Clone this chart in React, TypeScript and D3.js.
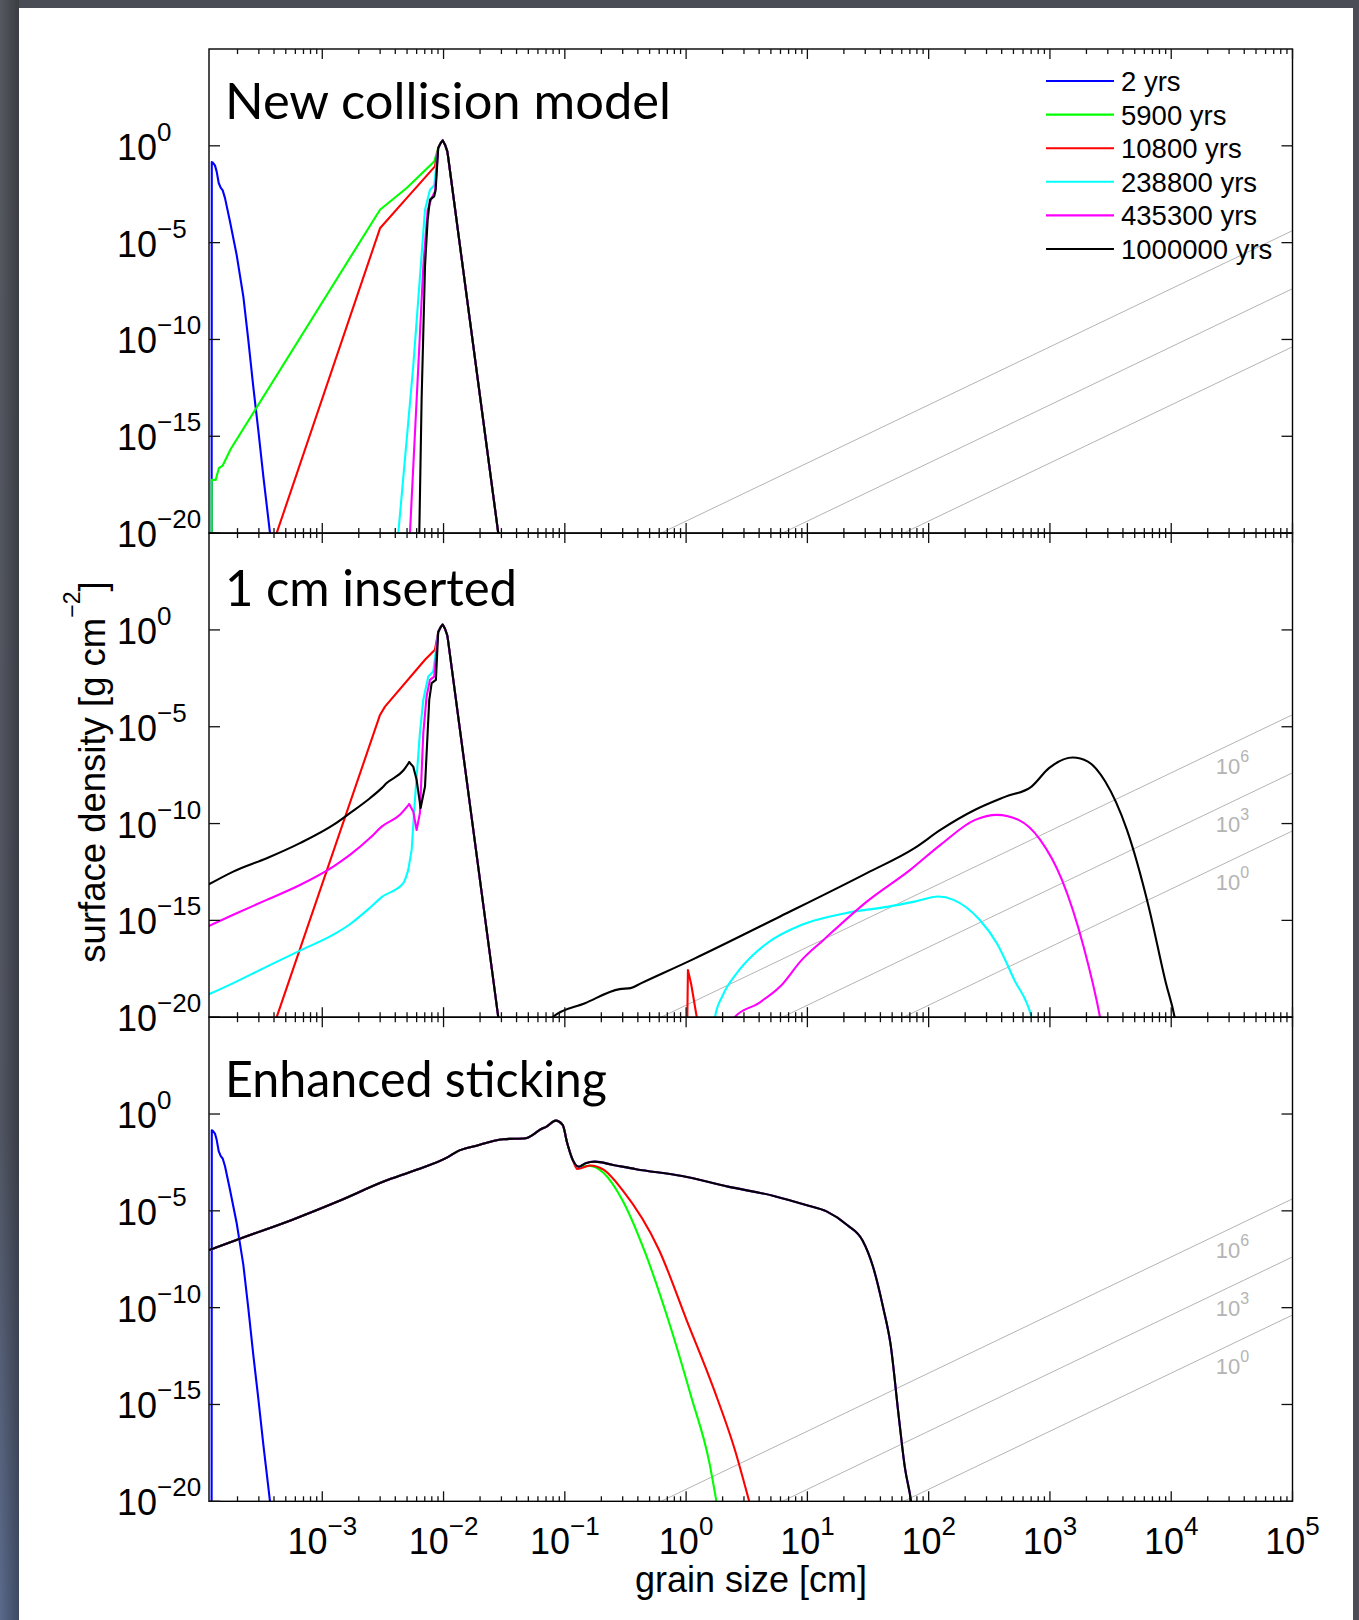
import React from 'react';
import * as d3 from 'd3';

type P = [number, number];

// ---------- labels ----------
const SERIES_NAMES = ['2 yrs', '5900 yrs', '10800 yrs', '238800 yrs', '435300 yrs', '1000000 yrs'];
const SERIES_COLORS = ['#0000ff', '#00ff00', '#ff0000', '#00ffff', '#ff00ff', '#000000'];
const PANEL_TITLES = ['New collision model', '1 cm inserted', 'Enhanced sticking'];
const X_TICK_EXP = [-3, -2, -1, 0, 1, 2, 3, 4, 5];
const Y_TICK_EXP = [-20, -15, -10, -5, 0];
const X_AXIS_LABEL = 'grain size [cm]';
const Y_AXIS_LABEL = 'surface density [g cm';
const Y_AXIS_LABEL_SUP = '\u22122';
const Y_AXIS_LABEL_END = ']';
// gray reference lines: log10 Σ = slope * log10 a + log10 N + intercept
const REF_LINE_LOGN = [6, 3, 0];
const REF_LINE_SLOPE = 3;
const REF_LINE_ICPT = -25.38;
const REF_LABEL_LOGX = 4.384;

// ---------- data: [log10 grain size (cm), log10 surface density (g cm^-2)] ----------
const BLUE: P[] = [
  [-3.913, -30], [-3.911, -0.84], [-3.904, -0.86], [-3.885, -1.01], [-3.871, -1.32], [-3.854, -1.92],
  [-3.838, -2.16], [-3.821, -2.30], [-3.802, -2.70], [-3.761, -3.91], [-3.706, -5.63], [-3.651, -7.78],
  [-3.610, -10.02], [-3.569, -12.43], [-3.528, -14.66], [-3.486, -17.07], [-3.431, -20.0], [-3.40, -22],
];
// common main peak near 100 µm
const PEAK: P[] = [
  [-2.044, -0.11], [-2.024, 0.14], [-2.007, 0.28], [-1.988, 0.06], [-1.969, -0.29], [-1.961, -0.63],
  [-1.549, -20], [-1.5, -22],
];
// panel 1: New collision model
const P1_GREEN: P[] = [
  [-3.913, -30], [-3.912, -17.25], [-3.879, -17.25], [-3.852, -16.64], [-3.821, -16.51], [-3.755, -15.66],
  [-2.524, -3.30], [-2.304, -2.18], [-2.077, -0.81],
];
const P1_RED: P[] = [
  [-3.45, -22], [-3.376, -20], [-2.524, -4.26], [-2.304, -2.70], [-2.071, -1.06],
];
const P1_CYAN: P[] = [
  [-2.40, -25], [-2.373, -20], [-2.250, -11.39], [-2.153, -3.30], [-2.112, -2.27], [-2.077, -2.05],
];
const P1_MAGENTA: P[] = [
  [-2.30, -25], [-2.277, -20], [-2.222, -13.11], [-2.167, -6.23], [-2.131, -3.30], [-2.098, -2.69], [-2.070, -2.35],
];
const P1_BLACK: P[] = [
  [-2.205, -25], [-2.200, -20], [-2.181, -13.11], [-2.153, -6.23], [-2.131, -3.82], [-2.112, -2.78],
  [-2.077, -2.61], [-2.065, -2.27],
];
// panel 2: 1 cm inserted
const P2_RED_LEFT: P[] = [
  [-3.45, -22], [-3.376, -20], [-2.524, -4.39], [-2.483, -3.96], [-2.153, -1.54], [-2.071, -1.02],
];
const P2_RED_SPIKE: P[] = [
  [-0.01, -30], [0.015, -17.56], [0.042, -18.3], [0.088, -20], [0.11, -22],
];
const P2_CYAN_TAIL: P[] = [
  [-3.932, -18.81], [-3.734, -18.24], [-3.458, -17.39], [-3.184, -16.56], [-2.909, -15.74], [-2.772, -15.20],
  [-2.607, -14.35], [-2.510, -13.80], [-2.332, -13.08], [-2.291, -12.39],
];
const P2_CYAN_RISE: P[] = [
  [-2.291, -12.39], [-2.263, -11.36], [-2.236, -8.78], [-2.195, -5.33], [-2.167, -3.61], [-2.126, -2.41], [-2.085, -2.15],
];
const P2_CYAN_RIGHT: P[] = [
  [0.20, -22], [0.238, -20], [0.30, -18.9], [0.417, -17.73], [0.55, -16.8], [0.668, -16.18], [0.954, -15.23],
  [1.311, -14.63], [1.669, -14.29], [1.883, -14.03], [2.080, -13.77], [2.205, -13.94], [2.420, -14.97],
  [2.562, -16.18], [2.706, -18.07], [2.848, -20], [2.90, -21.5],
];
const P2_MAGENTA_TAIL: P[] = [
  [-3.932, -15.28], [-3.734, -14.71], [-3.458, -13.94], [-3.184, -13.17], [-2.909, -12.22], [-2.772, -11.62],
  [-2.607, -10.75], [-2.510, -10.16], [-2.360, -9.55], [-2.283, -9.00],
];
const P2_MAGENTA_RISE: P[] = [
  [-2.283, -9.00], [-2.250, -9.38], [-2.222, -10.33], [-2.195, -9.46], [-2.167, -5.33], [-2.140, -3.44],
  [-2.112, -2.58], [-2.077, -2.41],
];
const P2_MAGENTA_RIGHT: P[] = [
  [0.35, -22], [0.400, -20], [0.596, -19.28], [0.775, -18.42], [0.954, -17.04], [1.133, -16.01], [1.490, -14.03],
  [1.848, -12.39], [2.097, -11.10], [2.383, -9.81], [2.562, -9.55], [2.741, -9.81], [2.920, -10.84],
  [3.099, -12.91], [3.277, -16.35], [3.413, -20], [3.45, -21.3],
];
const P2_BLACK_TAIL: P[] = [
  [-3.932, -13.13], [-3.734, -12.48], [-3.458, -11.79], [-3.184, -11.01], [-2.909, -10.07], [-2.772, -9.46],
  [-2.607, -8.69], [-2.510, -8.17], [-2.469, -7.91], [-2.332, -7.26], [-2.283, -6.83],
];
const P2_BLACK_RISE: P[] = [
  [-2.283, -6.83], [-2.250, -7.06], [-2.222, -7.74], [-2.189, -9.20], [-2.153, -8.09], [-2.118, -3.61],
  [-2.098, -2.75], [-2.063, -2.58],
];
const P2_BLACK_RIGHT: P[] = [
  [-1.15, -22], [-1.102, -20], [-0.834, -19.28], [-0.548, -18.55], [-0.458, -18.50], [-0.369, -18.24],
  [0.060, -17.00], [0.775, -14.80], [1.490, -12.56], [1.883, -11.27], [2.097, -10.33], [2.383, -9.29],
  [2.634, -8.61], [2.848, -8.09], [2.992, -7.14], [3.188, -6.59], [3.313, -6.80], [3.456, -7.83],
  [3.635, -10.33], [3.814, -14.29], [3.956, -18.24], [4.028, -20], [4.06, -21.2],
];
// panel 3: Enhanced sticking
const P3_BASE: P[] = [
  [-3.932, -7.02], [-3.630, -6.33], [-3.251, -5.47], [-2.873, -4.52], [-2.494, -3.49], [-2.229, -2.89],
  [-1.965, -2.23], [-1.889, -1.94], [-1.737, -1.65], [-1.510, -1.30], [-1.321, -1.25], [-1.264, -1.08],
  [-1.207, -0.82], [-1.151, -0.65], [-1.075, -0.34], [-1.018, -0.56], [-0.980, -1.51], [-0.935, -2.37],
];
const P3_GREEN: P[] = [
  [-0.885, -2.72], [-0.791, -2.68], [-0.678, -3.06], [-0.526, -4.44], [-0.336, -7.19], [-0.147, -10.64],
  [0.042, -14.60], [0.193, -18.04], [0.250, -20], [0.30, -21.7],
];
const P3_RED: P[] = [
  [-0.897, -2.84], [-0.791, -2.66], [-0.678, -2.89], [-0.526, -3.92], [-0.223, -7.02], [0.004, -10.64],
  [0.231, -14.25], [0.400, -17.3], [0.520, -20], [0.58, -21.4],
];
const P3_BLACK: P[] = [
  [-0.885, -2.72], [-0.829, -2.54], [-0.753, -2.46], [-0.602, -2.63], [-0.412, -2.85], [-0.034, -3.20],
  [0.345, -3.75], [0.723, -4.23], [0.989, -4.70], [1.158, -5.03], [1.328, -5.73], [1.455, -6.53],
  [1.540, -7.86], [1.625, -10.0], [1.685, -11.86], [1.753, -15.6], [1.804, -18.26], [1.855, -20], [1.88, -21.3],
];

type Part = { data: P[]; smooth: boolean };
type S = { idx: number; parts: Part[] };
const lin = (data: P[]): Part => ({ data, smooth: false });
const smo = (data: P[]): Part => ({ data, smooth: true });

const PANELS: S[][] = [
  [
    { idx: 0, parts: [lin(BLUE)] },
    { idx: 1, parts: [lin([...P1_GREEN, ...PEAK])] },
    { idx: 2, parts: [lin([...P1_RED, ...PEAK])] },
    { idx: 3, parts: [lin([...P1_CYAN, ...PEAK])] },
    { idx: 4, parts: [lin([...P1_MAGENTA, ...PEAK])] },
    { idx: 5, parts: [lin([...P1_BLACK, ...PEAK])] },
  ],
  [
    { idx: 2, parts: [lin([...P2_RED_LEFT, ...PEAK]), lin(P2_RED_SPIKE)] },
    { idx: 3, parts: [smo(P2_CYAN_TAIL), lin([...P2_CYAN_RISE, ...PEAK]), smo(P2_CYAN_RIGHT)] },
    { idx: 4, parts: [smo(P2_MAGENTA_TAIL), lin([...P2_MAGENTA_RISE, ...PEAK]), smo(P2_MAGENTA_RIGHT)] },
    { idx: 5, parts: [smo(P2_BLACK_TAIL), lin([...P2_BLACK_RISE, ...PEAK]), smo(P2_BLACK_RIGHT)] },
  ],
  [
    { idx: 0, parts: [lin(BLUE)] },
    { idx: 1, parts: [smo([...P3_BASE, ...P3_GREEN])] },
    { idx: 2, parts: [smo([...P3_BASE, ...P3_RED])] },
    { idx: 3, parts: [smo([...P3_BASE, ...P3_BLACK])] },
    { idx: 4, parts: [smo([...P3_BASE, ...P3_BLACK])] },
    { idx: 5, parts: [smo([...P3_BASE, ...P3_BLACK])] },
  ],
];

// ---------- layout ----------
const W = 1359, H = 1620;
const FRAME_L = 209, FRAME_R = 1292.5;
const PANEL_TOP = [49, 533.1, 1017.2];
const PANEL_H = 484.1;
const TITLE_BASE = [119, 606, 1097];
const TITLE_LEN = [446, 292, 382];
const FONT = 'Liberation Sans, Arial, Helvetica, sans-serif';
const TITLE_FONT = 'Lato, "Open Sans", sans-serif';
const TICK_FS = 36, SUP_FS = 26, SUP_DY = 19;

const xScale = d3.scaleLog().domain([Math.pow(10, -3.934), 1e5]).range([FRAME_L, FRAME_R]);

function expStr(e: number) {
  return e < 0 ? '\u2212' + String(-e) : String(e);
}

export default function App() {
  const xMin = xScale.domain()[0];
  const xTicks: { v: number; major: boolean }[] = [];
  for (let e = -4; e <= 4; e++) {
    for (let m = 1; m <= 9; m++) {
      const v = m * Math.pow(10, e);
      if (v > xMin * 1.0001 && v < 1e5) xTicks.push({ v, major: m === 1 });
    }
  }
  xTicks.push({ v: 1e5, major: true });

  return (
    <svg width={W} height={H} style={{ position: 'absolute', left: 0, top: 0 }} xmlns="http://www.w3.org/2000/svg">
      <defs>
        <linearGradient id="leftbg" x1="0" x2="0" y1="0" y2="1">
          <stop offset="0" stopColor="#55585f" />
          <stop offset="0.7" stopColor="#515663" />
          <stop offset="1" stopColor="#5a6a8c" />
        </linearGradient>
        <linearGradient id="leftshade" x1="0" x2="1" y1="0" y2="0">
          <stop offset="0" stopColor="#000" stopOpacity="0" />
          <stop offset="1" stopColor="#000" stopOpacity="0.3" />
        </linearGradient>
        {PANEL_TOP.map((t, i) => (
          <clipPath id={`clip${i}`} key={i}>
            <rect x={FRAME_L} y={t} width={FRAME_R - FRAME_L} height={PANEL_H} />
          </clipPath>
        ))}
      </defs>
      <rect x={0} y={0} width={W} height={H} fill="#4a4d55" />
      <rect x={0} y={0} width={19} height={H} fill="url(#leftbg)" />
      <rect x={0} y={0} width={19} height={H} fill="url(#leftshade)" />
      <rect x={19} y={8} width={1334} height={H - 8} fill="#ffffff" />

      {PANELS.map((series, pi) => {
        const top = PANEL_TOP[pi];
        const bottom = top + PANEL_H;
        const yScale = d3.scaleLog().domain([1e-20, 1e5]).range([bottom, top]);
        const mk = (smooth: boolean) =>
          d3
            .line<P>()
            .x((d) => xScale(Math.pow(10, d[0])))
            .y((d) => yScale(Math.pow(10, d[1])))
            .curve(smooth ? d3.curveMonotoneX : d3.curveLinear);
        const lineS = mk(true);
        const lineL = mk(false);
        const refLines = REF_LINE_LOGN.map((n) => {
          const pts: P[] = [-2, 6].map((lx) => [lx, REF_LINE_SLOPE * lx + n + REF_LINE_ICPT] as P);
          return { n, d: lineL(pts) || '' };
        });
        return (
          <g key={pi}>
            <g clipPath={`url(#clip${pi})`}>
              {refLines.map((r) => (
                <path key={r.n} d={r.d} fill="none" stroke="#b4b4b4" strokeWidth={1} />
              ))}
              {series.map((s, si) =>
                s.parts.map((p, k) => (
                  <path
                    key={`${si}-${k}`}
                    d={(p.smooth ? lineS : lineL)(p.data) || ''}
                    fill="none"
                    stroke={SERIES_COLORS[s.idx]}
                    strokeWidth={2.1}
                    strokeLinejoin="round"
                    strokeLinecap="round"
                  />
                ))
              )}
            </g>
            {/* gray reference labels */}
            {pi > 0 &&
              REF_LINE_LOGN.map((n) => {
                const lx = xScale(Math.pow(10, REF_LABEL_LOGX));
                const ly = yScale(Math.pow(10, REF_LINE_SLOPE * REF_LABEL_LOGX + n + REF_LINE_ICPT)) + 23;
                return (
                  <text key={n} x={lx - 2} y={ly} fontFamily={FONT} fontSize={22} fill="#b4b4b4">
                    10
                    <tspan fontSize={16} dy={-12}>{expStr(n)}</tspan>
                  </text>
                );
              })}
            {/* frame */}
            <rect x={FRAME_L} y={top} width={FRAME_R - FRAME_L} height={PANEL_H} fill="none" stroke="#000" strokeWidth={1.4} />
            {/* x ticks top and bottom */}
            {xTicks.map((t, i) => {
              const x = xScale(t.v);
              const len = t.major ? 10 : 5;
              return (
                <g key={i} stroke="#111" strokeWidth={1.3}>
                  <line x1={x} x2={x} y1={bottom} y2={bottom - len} />
                  <line x1={x} x2={x} y1={top} y2={top + len} />
                </g>
              );
            })}
            {/* y ticks left and right */}
            {Y_TICK_EXP.map((e) => {
              const y = yScale(Math.pow(10, e));
              return (
                <g key={e} stroke="#111" strokeWidth={1.3}>
                  <line x1={FRAME_L} x2={FRAME_L + 11} y1={y} y2={y} />
                  <line x1={FRAME_R} x2={FRAME_R - 11} y1={y} y2={y} />
                </g>
              );
            })}
            {/* y tick labels */}
            {Y_TICK_EXP.map((e) => {
              const y = yScale(Math.pow(10, e));
              return (
                <text key={e} x={117} y={y + 14} fontFamily={FONT} fontSize={TICK_FS} fill="#000">
                  10
                  <tspan fontSize={SUP_FS} dy={-SUP_DY}>{expStr(e)}</tspan>
                </text>
              );
            })}
            {/* title */}
            <text
              x={225}
              y={TITLE_BASE[pi]}
              fontFamily={TITLE_FONT}
              fontSize={51}
              fill="#000"
              textLength={TITLE_LEN[pi]}
              lengthAdjust="spacingAndGlyphs"
            >
              {PANEL_TITLES[pi]}
            </text>
            {/* legend */}
            {pi === 0 &&
              SERIES_NAMES.map((name, i) => {
                const ly = 81 + i * 33.6;
                return (
                  <g key={name}>
                    <line x1={1046} x2={1114} y1={ly} y2={ly} stroke={SERIES_COLORS[i]} strokeWidth={2.1} />
                    <text x={1121} y={ly + 10} fontFamily={FONT} fontSize={27.5} fill="#000">
                      {name}
                    </text>
                  </g>
                );
              })}
          </g>
        );
      })}

      {/* x tick labels */}
      {X_TICK_EXP.map((e) => (
        <text key={e} x={xScale(Math.pow(10, e))} y={1554} textAnchor="middle" fontFamily={FONT} fontSize={TICK_FS} fill="#000">
          10
          <tspan fontSize={SUP_FS} dy={-SUP_DY}>{expStr(e)}</tspan>
        </text>
      ))}
      {/* axis labels */}
      <text x={751} y={1592} textAnchor="middle" fontFamily={FONT} fontSize={36} fill="#000">
        {X_AXIS_LABEL}
      </text>
      <text transform="translate(105,772) rotate(-90)" textAnchor="middle" fontFamily={FONT} fontSize={36.5} fill="#000">
        {Y_AXIS_LABEL}
        <tspan fontSize={23} dy={-25}>{Y_AXIS_LABEL_SUP}</tspan>
        <tspan dy={25}>{Y_AXIS_LABEL_END}</tspan>
      </text>
    </svg>
  );
}
